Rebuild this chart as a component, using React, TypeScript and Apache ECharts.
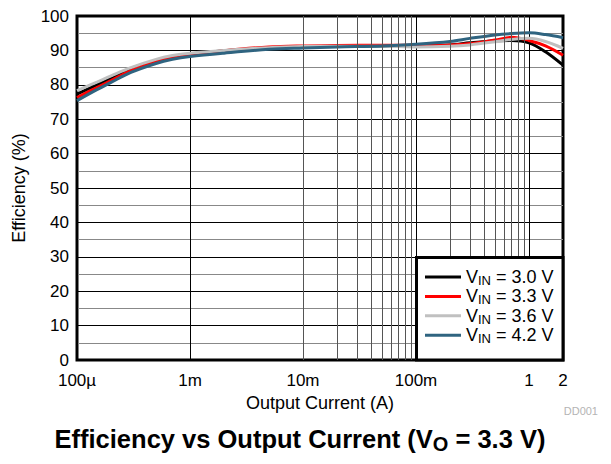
import React, { useEffect, useRef } from 'react';
import * as echarts from 'echarts';

// Output current (A)
const currents = [1e-4, 1.5e-4, 2e-4, 3e-4, 5e-4, 7e-4, 1e-3, 2e-3, 5e-3, 1e-2, 2e-2, 5e-2, 0.1, 0.2, 0.3, 0.5, 0.7, 1, 1.4, 2];
// Efficiency (%) per input voltage
const eff30 = [77.3, 80.0, 81.8, 84.7, 87.0, 88.1, 88.9, 89.9, 90.7, 91.0, 91.2, 91.3, 91.4, 91.6, 92.2, 92.8, 92.9, 92.2, 89.6, 85.7];
const eff33 = [76.3, 79.2, 81.2, 84.1, 86.7, 87.9, 88.7, 89.9, 91.0, 91.3, 91.4, 91.5, 91.5, 91.6, 92.0, 93.0, 93.8, 92.9, 91.3, 88.6];
const eff36 = [78.3, 80.8, 82.6, 85.0, 87.4, 88.5, 89.2, 90.0, 90.8, 91.1, 91.2, 91.2, 91.0, 91.2, 91.6, 92.5, 93.2, 93.5, 92.6, 90.6];
const eff42 = [75.4, 78.6, 80.7, 83.6, 86.2, 87.4, 88.2, 89.2, 90.3, 90.7, 91.0, 91.3, 91.8, 92.6, 93.5, 94.5, 94.9, 95.1, 94.6, 93.7];

const vinLabels = ['3.0', '3.3', '3.6', '4.2'];
const seriesColors = ['#000000', '#ff0000', '#c0c0c0', '#2f6480'];

const xTickValues = [1e-4, 1e-3, 1e-2, 0.1, 1, 2];
const xTickLabels = ['100\u00b5', '1m', '10m', '100m', '1', '2'];
const xMinorGrid = [
  2e-4, 3e-4, 4e-4, 5e-4, 6e-4, 7e-4, 8e-4, 9e-4,
  2e-3, 3e-3, 4e-3, 5e-3, 6e-3, 7e-3, 8e-3, 9e-3,
  2e-2, 3e-2, 4e-2, 5e-2, 6e-2, 7e-2, 8e-2, 9e-2,
  0.2, 0.3, 0.4, 0.5, 0.6, 0.7, 0.8, 0.9,
];

const FONT = '"Liberation Sans", Arial, Helvetica, sans-serif';

export default function App() {
  const ref = useRef<HTMLDivElement>(null);

  useEffect(() => {
    if (!ref.current) return;
    const chart = echarts.init(ref.current, undefined, { renderer: 'svg' });
    const effs = [eff30, eff33, eff36, eff42];

    const lineSeries = effs.map((arr, i) => ({
      name: 'VIN = ' + vinLabels[i] + ' V',
      type: 'line',
      smooth: 0.35,
      symbol: 'none',
      z: 3,
      lineStyle: { color: seriesColors[i], width: 3 },
      itemStyle: { color: seriesColors[i] },
      data: currents.map((c, j) => [c, arr[j]]),
    }));

    const gridSeries = {
      name: 'minorgrid',
      type: 'line',
      data: [],
      z: 1,
      silent: true,
      markLine: {
        silent: true,
        symbol: ['none', 'none'],
        label: { show: false },
        animation: false,
        lineStyle: { color: '#555', width: 1, type: 'solid' },
        data: xMinorGrid.map((v) => ({ xAxis: v })),
      },
    };

    chart.setOption({
      animation: false,
      grid: {
        left: 77,
        top: 16,
        right: 48,
        bottom: 104,
        show: true,
        borderColor: '#000',
        borderWidth: 3,
        backgroundColor: 'transparent',
        z: 0,
      },
      xAxis: {
        type: 'log',
        logBase: 10,
        min: 1e-4,
        max: 2,
        z: 0,
        name: 'Output Current (A)',
        nameLocation: 'middle',
        nameGap: 30,
        nameTextStyle: { fontFamily: FONT, fontSize: 18, color: '#000' },
        axisLine: { show: false },
        axisTick: { show: false },
        axisLabel: {
          fontFamily: FONT,
          fontSize: 17,
          color: '#000',
          margin: 12,
          showMaxLabel: true,
          showMinLabel: true,
          formatter: (v: number) => {
            let best = 0;
            let bd = Infinity;
            xTickValues.forEach((t, i) => {
              const d = Math.abs(Math.log10(t) - Math.log10(v));
              if (d < bd) { bd = d; best = i; }
            });
            return bd < 0.05 ? xTickLabels[best] : '';
          },
        },
        splitLine: { show: true, lineStyle: { color: '#000', width: 1 } },
      },
      yAxis: {
        type: 'value',
        min: 0,
        max: 100,
        interval: 10,
        z: 0,
        name: 'Efficiency (%)',
        nameLocation: 'middle',
        nameGap: 49,
        nameTextStyle: { fontFamily: FONT, fontSize: 18, color: '#000' },
        axisLine: { show: false },
        axisTick: { show: false },
        axisLabel: { fontFamily: FONT, fontSize: 17, color: '#000', margin: 8 },
        splitLine: { show: true, lineStyle: { color: '#000', width: 1 } },
        minorTick: { show: false, splitNumber: 2 },
        minorSplitLine: { show: true, lineStyle: { color: '#888', width: 1 } },
      },
      legend: {
        data: lineSeries.map((s) => s.name),
        orient: 'vertical',
        left: 425,
        top: 268,
        padding: 0,
        itemGap: 0.4,
        itemWidth: 36,
        itemHeight: 3,
        icon: 'rect',
        z: 101,
        selectedMode: false,
        formatter: (name: string) => {
          const v = name.replace('VIN = ', '');
          return '{v|V}{s|IN}{v| = ' + v + '}';
        },
        textStyle: {
          fontFamily: FONT,
          color: '#000',
          rich: {
            v: { fontFamily: FONT, fontSize: 18, lineHeight: 20, color: '#000' },
            s: { fontFamily: FONT, fontSize: 13, lineHeight: 10, verticalAlign: 'bottom', color: '#000' },
          },
        },
      },
      graphic: [
        {
          type: 'rect',
          z: 100,
          shape: { x: 416.5, y: 257.5, width: 146.5, height: 102.5 },
          style: { fill: '#fff', stroke: '#000', lineWidth: 3 },
          silent: true,
        },
        {
          type: 'text',
          z: 100,
          x: 598,
          y: 411,
          style: {
            text: 'DD001',
            fill: '#b4b4b4',
            font: '11px ' + FONT,
            align: 'right',
            verticalAlign: 'middle',
          },
        },
        {
          type: 'text',
          z: 100,
          x: 300,
          y: 439,
          style: {
            text: '{b|Efficiency vs Output Current (V}{s|O}{b| = 3.3 V)}',
            align: 'center',
            verticalAlign: 'middle',
            rich: {
              b: { fontFamily: FONT, fontWeight: 'bold', fontSize: 25.5, lineHeight: 30, fill: '#000' },
              s: { fontFamily: FONT, fontWeight: 'bold', fontSize: 20, lineHeight: 7, verticalAlign: 'bottom', fill: '#000' },
            },
          },
        },
      ],
      series: [gridSeries, ...lineSeries],
    });

    return () => chart.dispose();
  }, []);

  return <div ref={ref} style={{ width: 611, height: 464, margin: -8 }} />;
}
